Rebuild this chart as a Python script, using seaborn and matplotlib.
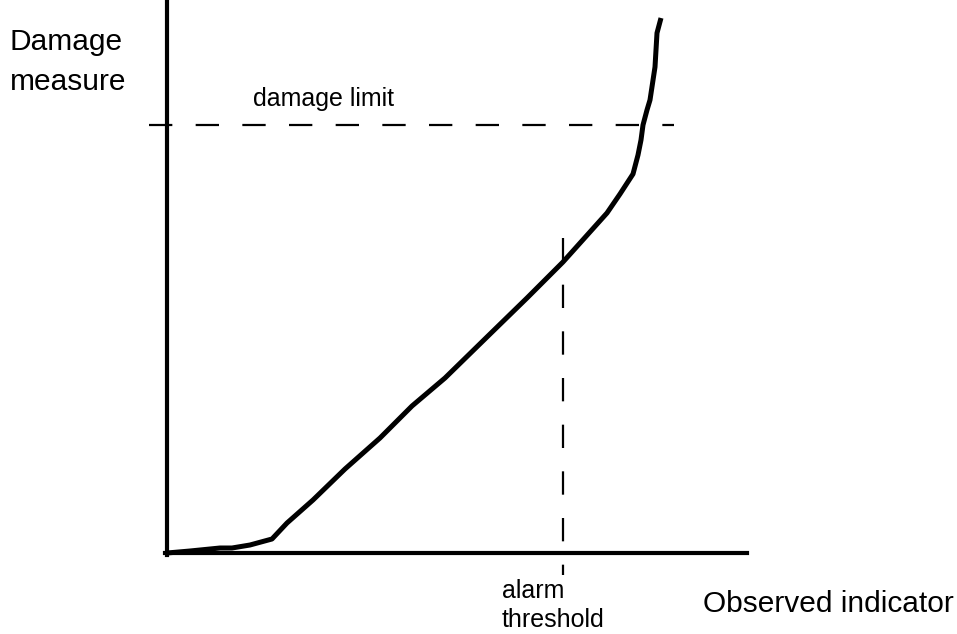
import matplotlib
matplotlib.use("Agg")
import matplotlib.pyplot as plt
import seaborn as sns
import pandas as pd

# Data (arbitrary units, origin at the axes corner)
indicator = [0, 23, 53, 65, 83, 105, 120, 146, 178, 213, 245, 278, 321, 360,
             396, 440, 453, 466, 471, 474, 476, 480, 483, 488, 490, 494]
damage = [0, 2, 5, 5, 8, 14, 30, 53, 84, 115, 147, 175, 217, 255,
          291, 340, 359, 379, 398, 413, 428, 443, 453, 486, 520, 535]
damage_limit = 428
damage_limit_span = [-18, 507]
alarm_threshold = 396
alarm_span = [-22, 315]

sns.set_style("white")
plt.rcParams['font.family'] = ['Liberation Sans', 'DejaVu Sans']
plt.rcParams['text.color'] = 'black'

fig = plt.figure(figsize=(9.57, 6.34), dpi=100)
ax = fig.add_axes([0, 0, 1, 1])
ax.set_xlim(-167, 790)
ax.set_ylim(-81, 553)

df = pd.DataFrame({"indicator": indicator, "damage": damage})
sns.lineplot(data=df, x="indicator", y="damage", sort=False, color="black",
             linewidth=3.6, ax=ax, solid_joinstyle="round", solid_capstyle="butt")

ax.plot(damage_limit_span, [damage_limit, damage_limit], color="black",
        linewidth=1.6, dashes=(10.5, 10.5))
ax.plot([alarm_threshold, alarm_threshold], [alarm_span[1], alarm_span[0]],
        color="black", linewidth=1.6, dashes=(10.5, 10.5))

for s in ["top", "right"]:
    ax.spines[s].set_visible(False)
ax.spines["left"].set_position(("data", 0))
ax.spines["bottom"].set_position(("data", 0))
ax.spines["left"].set_bounds(-2, 553)
ax.spines["bottom"].set_bounds(-2, 580)
for s in ["left", "bottom"]:
    ax.spines[s].set_linewidth(3)
    ax.spines[s].set_color("black")
ax.set_xticks([])
ax.set_yticks([])
ax.set_xlabel("")
ax.set_ylabel("")
ax.patch.set_alpha(0)

big = 21.5
small = 18
ax.text(-157, 503, "Damage", fontsize=big, va="baseline", ha="left", color="black")
ax.text(-157, 463, "measure", fontsize=big, va="baseline", ha="left", color="black")
ax.text(86, 447, "damage limit", fontsize=small, va="baseline", ha="left", color="black")
ax.text(335, -45, "alarm", fontsize=small, va="baseline", ha="left", color="black")
ax.text(335, -74, "threshold", fontsize=small, va="baseline", ha="left", color="black")
ax.text(536, -59, "Observed indicator", fontsize=big, va="baseline", ha="left", color="black")

fig.savefig("out.png", dpi=100)
